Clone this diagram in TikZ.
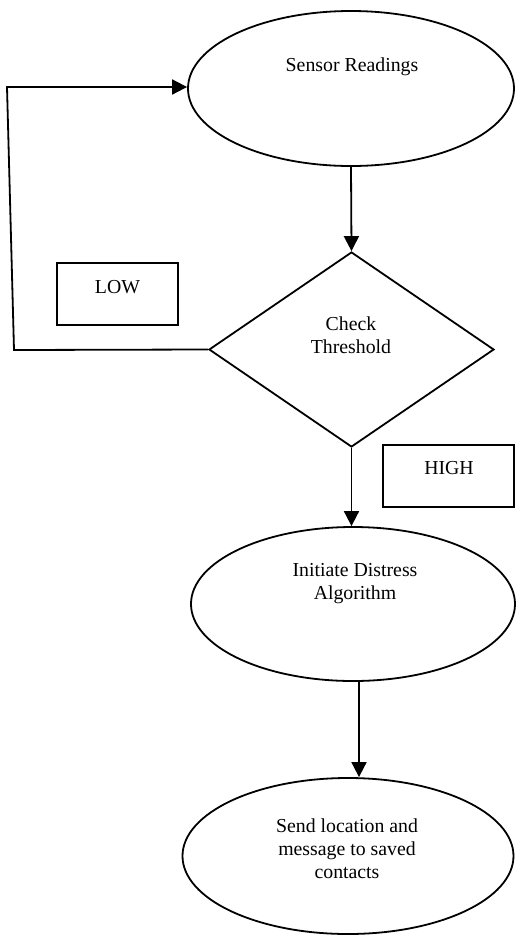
\documentclass[tikz,border=0pt]{standalone}
\usepackage{fontspec}
\setmainfont{Liberation Serif}
\usetikzlibrary{shapes.geometric,arrows.meta}
\begin{document}
\begin{tikzpicture}[x=1pt,y=-1pt,
  line width=1.8pt,
  every node/.style={inner sep=0pt},
  ell/.style={draw,ellipse,line width=1.8pt},
  dia/.style={draw,diamond,line width=1.8pt},
  lbox/.style={draw,rectangle,line width=1.8pt},
  txt/.style={align=center,font=\fontsize{19.8}{23}\selectfont},
  arr/.style={-{Triangle[length=15pt,width=15pt]}},
]
\useasboundingbox (0,0) rectangle (515,935);
% shapes
\node[ell,minimum width=326pt,minimum height=155pt] (e1) at (351,88.5) {};
\node[dia,minimum width=285pt,minimum height=195pt] (d) at (351.5,349.5) {};
\node[ell,minimum width=324pt,minimum height=154pt] (e2) at (353,604) {};
\node[ell,minimum width=331pt,minimum height=156pt] (e3) at (348,856) {};
\node[lbox,minimum width=121pt,minimum height=62pt] (low) at (117.5,294) {};
\node[lbox,minimum width=131pt,minimum height=62pt] (high) at (448.5,476) {};
% texts
\node[txt] (t1) at (352,67) {Sensor Readings};
\node[txt] (t2) at (351,335.5) {Check\\Threshold};
\node[txt] (t3) at (355,584) {Initiate Distress\\Algorithm};
\node[txt] (t4) at (347,849) {Send location and\\message to saved\\contacts};
\node[txt] (t5) at (117.5,287) {LOW};
\node[txt] (t6) at (449,468) {HIGH};
% connectors
\coordinate (c1) at (14,350);
\coordinate (c2) at (7,87);
\draw[arr] (e1.south) -- (d.north);
\draw[arr] (d.south) -- (d.south |- e2.north);
\draw[arr] ([xshift=6pt]e2.south) -- ([xshift=6pt]e2.south |- e3.north);
\draw[arr] (d.west) -- (c1) -- (c2) -- (c2 -| e1.west);
\end{tikzpicture}
\end{document}
